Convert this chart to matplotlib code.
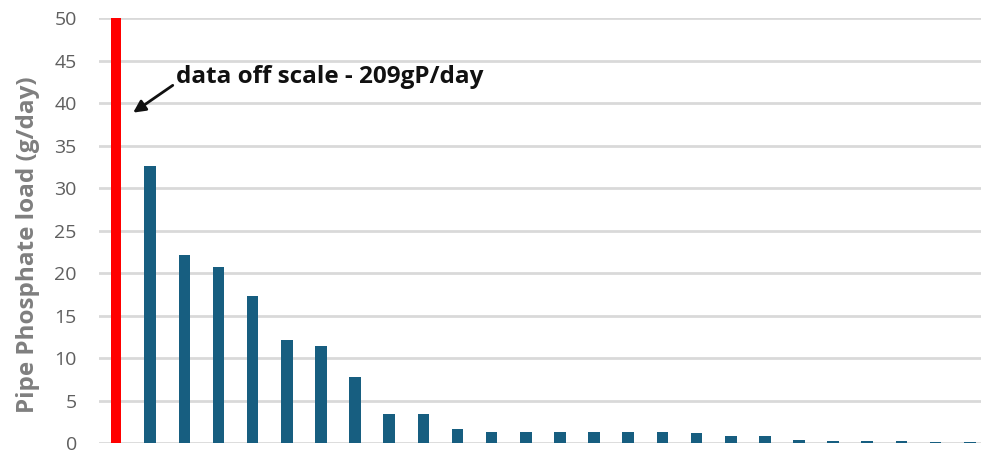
import matplotlib
matplotlib.use('Agg')
import matplotlib.pyplot as plt
import numpy as np

# off-scale first pipe, then the rest in descending order
off_scale_load = 209
pipe_loads = [32.6, 22.1, 20.7, 17.3, 12.1, 11.4, 7.8, 3.5, 3.4, 1.7,
              1.3, 1.3, 1.3, 1.3, 1.3, 1.3, 1.2, 0.9, 0.9, 0.4,
              0.25, 0.25, 0.25, 0.12, 0.12]
y_ticks = [0, 5, 10, 15, 20, 25, 30, 35, 40, 45, 50]
note = 'data off scale - 209gP/day'

plt.rcParams['font.family'] = ['Open Sans', 'DejaVu Sans']

fig = plt.figure(figsize=(9.81, 4.55), dpi=100)
ax = fig.add_axes([99/981, 11.7/455, (981-99)/981, (443.3-18.3)/455])

x_blue = np.arange(1, len(pipe_loads) + 1)
ax.bar([0], [off_scale_load], width=0.29, color='#ff0000', zorder=3)
ax.bar(x_blue, pipe_loads, width=0.34, color='#175e80', zorder=3)

ax.set_ylim(0, 50)
ax.set_xlim(-0.5, 25.33)
ax.set_yticks(y_ticks)
ax.set_xticks([])
ax.yaxis.grid(True, color='#d9d9d9', linewidth=2.0, zorder=0)
for s in ax.spines.values():
    s.set_visible(False)
ax.tick_params(axis='y', length=0, labelsize=14, labelcolor='#5f5f5f', pad=16)
ax.set_ylabel('Pipe Phosphate load (g/day)', fontsize=17.5, fontweight='bold',
              color='#7f7f7f')
ax.yaxis.set_label_coords(-0.067, 0.467)

ax.annotate(note, xy=(0.5, 38.9), xytext=(1.75, 43.1),
            fontsize=17.5, fontweight='bold', color='#111111',
            va='center', ha='left',
            arrowprops=dict(arrowstyle='-|>', color='#111111', lw=2,
                            mutation_scale=18, shrinkA=0, shrinkB=0,
                            relpos=(-0.01, 0.15)))

fig.savefig('out.png', dpi=100)
